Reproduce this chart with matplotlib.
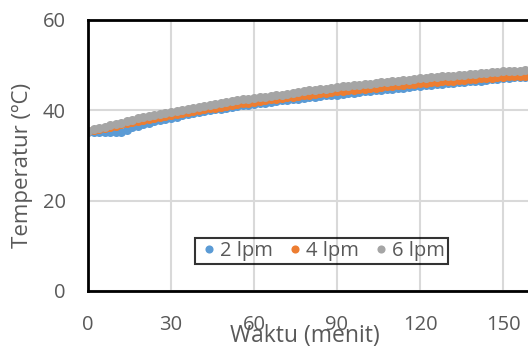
import numpy as np
import matplotlib
matplotlib.use('Agg')
import matplotlib.pyplot as plt

plt.rcParams['font.family'] = ['Open Sans', 'DejaVu Sans']

# Time axis, minutes (readings every 2 minutes)
waktu = np.arange(0, 161, 2)

# 2 lpm (blue)
temp_2lpm = [35.3, 35.3, 35.2, 35.2, 35.1, 35.1, 35.2, 35.7, 36.2, 36.6,
             37.0, 37.3, 37.6, 37.9, 38.1, 38.4, 38.6, 38.9, 39.1, 39.4,
             39.6, 39.8, 40.0, 40.2, 40.4, 40.6, 40.8, 40.9, 41.1, 41.2,
             41.4, 41.6, 41.7, 41.9, 42.0, 42.2, 42.3, 42.5, 42.6, 42.8,
             42.9, 43.0, 43.1, 43.3, 43.4, 43.5, 43.6, 43.8, 43.9, 44.1,
             44.2, 44.3, 44.4, 44.6, 44.7, 44.8, 44.9, 45.0, 45.2, 45.3,
             45.4, 45.5, 45.6, 45.8, 45.9, 46.0, 46.1, 46.2, 46.3, 46.4,
             46.5, 46.6, 46.7, 46.9, 47.0, 47.1, 47.2, 47.3, 47.3, 47.4,
             47.5]

# 4 lpm (orange)
temp_4lpm = [35.4, 35.6, 35.9, 36.1, 36.4, 36.6, 36.9, 37.1, 37.4, 37.6,
             37.9, 38.1, 38.3, 38.6, 38.8, 39.0, 39.2, 39.4, 39.7, 39.9,
             40.1, 40.3, 40.5, 40.6, 40.8, 41.0, 41.2, 41.4, 41.6, 41.7,
             41.9, 42.1, 42.2, 42.4, 42.5, 42.7, 42.9, 43.0, 43.2, 43.3,
             43.5, 43.6, 43.8, 43.9, 44.1, 44.2, 44.3, 44.4, 44.6, 44.7,
             44.8, 44.9, 45.0, 45.2, 45.3, 45.4, 45.5, 45.6, 45.8, 45.9,
             46.0, 46.1, 46.2, 46.3, 46.4, 46.5, 46.6, 46.7, 46.8, 46.9,
             47.0, 47.1, 47.2, 47.2, 47.3, 47.4, 47.5, 47.6, 47.6, 47.7,
             47.8]

# 6 lpm (gray)
temp_6lpm = [35.4, 35.8, 36.1, 36.4, 36.7, 37.0, 37.3, 37.6, 37.9, 38.2,
             38.5, 38.7, 39.0, 39.2, 39.5, 39.7, 39.9, 40.1, 40.4, 40.6,
             40.8, 41.0, 41.2, 41.4, 41.6, 41.8, 42.0, 42.2, 42.4, 42.5,
             42.7, 42.9, 43.0, 43.2, 43.4, 43.5, 43.7, 43.9, 44.0, 44.2,
             44.4, 44.5, 44.7, 44.8, 45.0, 45.2, 45.3, 45.4, 45.5, 45.7,
             45.8, 45.9, 46.1, 46.2, 46.3, 46.5, 46.6, 46.7, 46.8, 47.0,
             47.1, 47.2, 47.3, 47.4, 47.5, 47.6, 47.7, 47.8, 47.9, 48.0,
             48.1, 48.2, 48.3, 48.4, 48.5, 48.6, 48.7, 48.8, 48.8, 48.9,
             49.0]

series = [("2 lpm", temp_2lpm, "#5B9BD5"),
          ("4 lpm", temp_4lpm, "#ED7D31"),
          ("6 lpm", temp_6lpm, "#A5A5A5")]

fig = plt.figure(figsize=(5.28, 3.47), dpi=100)
# plot area runs past the right edge, like the cropped original
ax = fig.add_axes([88/528, 56/347, 498/528, 271/347])

for label, vals, col in series:
    ax.plot(waktu, vals, linestyle='none', marker='o', ms=6.5, color=col,
            markeredgewidth=0, label=label)

ax.set_xlim(0, 180)
ax.set_ylim(0, 60)
ax.set_xticks([0, 30, 60, 90, 120, 150, 180])
ax.set_xticklabels(['0', '30', '60', '90', '120', '150', ''])
ax.set_yticks([0, 20, 40, 60])
ax.grid(True, color='#D9D9D9', linewidth=1.5)
ax.set_axisbelow(True)
for sp in ax.spines.values():
    sp.set_color('black')
    sp.set_linewidth(2)
ax.tick_params(length=0, labelsize=14.5, colors='#595959')
ax.tick_params(axis='y', pad=16)
ax.tick_params(axis='x', pad=17)

ax.set_xlabel('Waktu (menit)', fontsize=16.5, color='#595959', va='baseline')
ax.xaxis.set_label_coords(0.436, -0.19)
ax.set_ylabel('Temperatur (ºC)', fontsize=16, color='#595959', va='center')
ax.yaxis.set_label_coords(-0.1325, 0.465)

leg = ax.legend(loc='center', bbox_to_anchor=(0.469, 0.148), ncol=3,
                frameon=True, fancybox=False, fontsize=14.5, handletextpad=0.05,
                columnspacing=0.6, handlelength=1.0, borderpad=0.15,
                labelcolor='#595959', markerscale=0.9)
leg.get_frame().set_edgecolor('black')
leg.get_frame().set_linewidth(1.5)
leg.get_frame().set_facecolor('none')

fig.savefig('out.png', dpi=100)
